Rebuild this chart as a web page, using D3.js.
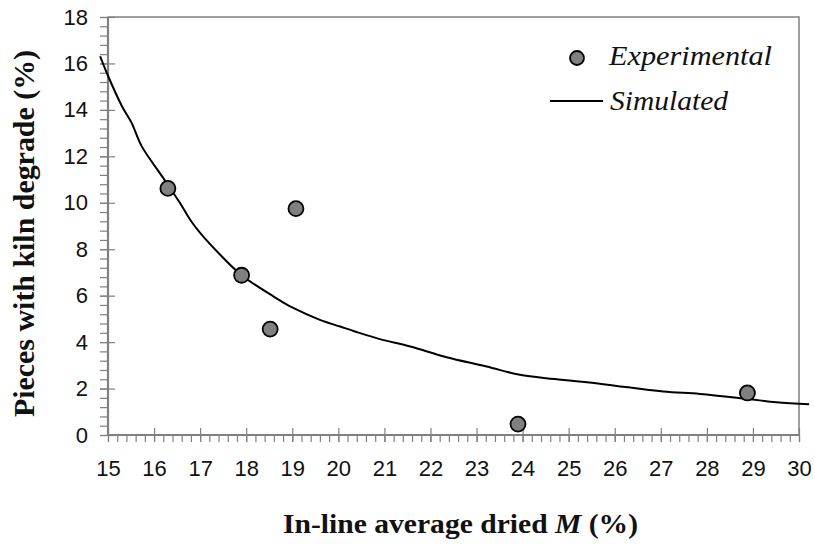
<!DOCTYPE html>
<html>
<head>
<meta charset="utf-8">
<script src="https://cdn.jsdelivr.net/npm/d3@7"></script>
<style>
  html, body { margin: 0; padding: 0; background: #fff; }
  svg { display: block; }
</style>
</head>
<body>
<svg id="chart" width="815" height="544"></svg>
<script>
// ---- Data ----
const expX = [16.30, 17.90, 18.52, 19.08, 23.90, 28.88];
const expY = [10.62, 6.88, 4.56, 9.75, 0.47, 1.81];

const simX = [14.83, 14.97, 15.30, 15.51, 15.73, 16.17, 16.56, 16.78, 17.00, 17.43, 17.90, 18.59, 19.02, 19.60, 20.04, 20.36, 20.90, 21.56, 22.35, 23.22, 23.94, 24.70, 25.75, 27.05, 27.85, 28.89, 29.51, 30.22];
const simY = [16.31, 15.61, 14.17, 13.45, 12.44, 11.15, 10.00, 9.28, 8.70, 7.77, 6.88, 5.97, 5.47, 4.96, 4.67, 4.46, 4.13, 3.81, 3.35, 2.95, 2.59, 2.41, 2.19, 1.87, 1.77, 1.55, 1.41, 1.32];

const xTicks = [15, 16, 17, 18, 19, 20, 21, 22, 23, 24, 25, 26, 27, 28, 29, 30];
const yTicks = [0, 2, 4, 6, 8, 10, 12, 14, 16, 18];
const xMinorTicks = d3.range(0, 76).map(i => 15 + i * 0.2);
const yMinorTicks = d3.range(0, 46).map(i => i * 0.4);

const legendLabels = ["Experimental", "Simulated"];
const yTitle = "Pieces with kiln degrade (%)";

// ---- Layout ----
const svg = d3.select("#chart");
const L = 108, R = 799, T = 17, B = 435;
const x = d3.scaleLinear().domain([15, 30]).range([L, R]);
const y = d3.scaleLinear().domain([0, 18]).range([B, T]);
const grey = "#808080";
const sans = "Liberation Sans, Arial, sans-serif";
const serif = "Liberation Serif, Times New Roman, serif";

// frame (top/right)
svg.append("rect").attr("x", L).attr("y", T).attr("width", R - L).attr("height", B - T)
  .attr("fill", "none").attr("stroke", grey).attr("stroke-width", 1.5);

// Y axis minor ticks
svg.append("g").attr("transform", `translate(${L},0)`)
  .call(d3.axisLeft(y).tickValues(yMinorTicks).tickSize(8).tickFormat(""))
  .call(g => { g.select(".domain").remove(); g.selectAll("line").attr("stroke", grey).attr("stroke-width", 1.2); });
// Y axis major ticks (crossing)
svg.append("g").attr("transform", `translate(${L + 7},0)`)
  .call(d3.axisLeft(y).tickValues(yTicks).tickSize(15).tickFormat(""))
  .call(g => { g.select(".domain").remove(); g.selectAll("line").attr("stroke", grey).attr("stroke-width", 1.2); });
// Y labels
svg.append("g").attr("transform", `translate(${L},0)`)
  .call(d3.axisLeft(y).tickValues(yTicks).tickSize(0).tickPadding(20).tickFormat(d3.format("d")))
  .call(g => {
    g.select(".domain").remove();
    g.selectAll("text").attr("font-family", sans).attr("font-size", 22).attr("fill", "#111");
  });

// X axis minor ticks
svg.append("g").attr("transform", `translate(0,${B})`)
  .call(d3.axisBottom(x).tickValues(xMinorTicks).tickSize(7).tickFormat(""))
  .call(g => { g.select(".domain").remove(); g.selectAll("line").attr("stroke", grey).attr("stroke-width", 1.2); });
// X axis major ticks (crossing)
svg.append("g").attr("transform", `translate(0,${B - 7})`)
  .call(d3.axisBottom(x).tickValues(xTicks).tickSize(14).tickFormat(""))
  .call(g => { g.select(".domain").remove(); g.selectAll("line").attr("stroke", grey).attr("stroke-width", 1.2); });
// X labels
svg.append("g").attr("transform", `translate(0,${B})`)
  .call(d3.axisBottom(x).tickValues(xTicks).tickSize(0).tickPadding(25).tickFormat(d3.format("d")))
  .call(g => {
    g.select(".domain").remove();
    g.selectAll("text").attr("font-family", sans).attr("font-size", 22).attr("fill", "#111");
  });

// axis lines (thicker)
svg.append("line").attr("x1", L).attr("x2", L).attr("y1", T).attr("y2", B + 1)
  .attr("stroke", grey).attr("stroke-width", 2.2);
svg.append("line").attr("x1", L - 1).attr("x2", R).attr("y1", B).attr("y2", B)
  .attr("stroke", grey).attr("stroke-width", 2.2);

// Simulated line
const simData = simX.map((v, i) => [v, simY[i]]);
svg.append("path").datum(simData)
  .attr("fill", "none").attr("stroke", "#000").attr("stroke-width", 2)
  .attr("d", d3.line().x(d => x(d[0])).y(d => y(d[1])).curve(d3.curveCatmullRom.alpha(0.5)));

// Experimental points
const expData = expX.map((v, i) => [v, expY[i]]);
svg.append("g").selectAll("circle").data(expData).join("circle")
  .attr("cx", d => x(d[0])).attr("cy", d => y(d[1])).attr("r", 7.5)
  .attr("fill", grey).attr("stroke", "#000").attr("stroke-width", 1.8);

// Legend
svg.append("circle").attr("cx", 577).attr("cy", 58).attr("r", 7)
  .attr("fill", grey).attr("stroke", "#000").attr("stroke-width", 1.8);
svg.append("text").attr("x", 609).attr("y", 65).text(legendLabels[0])
  .attr("font-family", serif).attr("font-style", "italic").attr("font-size", 28).attr("fill", "#111")
  .attr("textLength", 163).attr("lengthAdjust", "spacingAndGlyphs");
svg.append("line").attr("x1", 550).attr("x2", 603).attr("y1", 101).attr("y2", 101)
  .attr("stroke", "#000").attr("stroke-width", 2);
svg.append("text").attr("x", 610).attr("y", 110).text(legendLabels[1])
  .attr("font-family", serif).attr("font-style", "italic").attr("font-size", 28).attr("fill", "#111")
  .attr("textLength", 118).attr("lengthAdjust", "spacingAndGlyphs");

// Axis titles
svg.append("text")
  .attr("transform", "translate(34,417) rotate(-90)")
  .attr("x", 0).attr("y", 0)
  .attr("font-family", serif).attr("font-weight", "bold").attr("font-size", 29).attr("fill", "#111")
  .attr("textLength", 367).attr("lengthAdjust", "spacingAndGlyphs")
  .text(yTitle);

const xt = svg.append("text").attr("x", 283).attr("y", 533)
  .attr("font-family", serif).attr("font-weight", "bold").attr("font-size", 27).attr("fill", "#111")
  .attr("textLength", 355).attr("lengthAdjust", "spacingAndGlyphs");
xt.append("tspan").text("In-line average dried ");
xt.append("tspan").attr("font-style", "italic").text("M");
xt.append("tspan").text(" (%)");
</script>
</body>
</html>
